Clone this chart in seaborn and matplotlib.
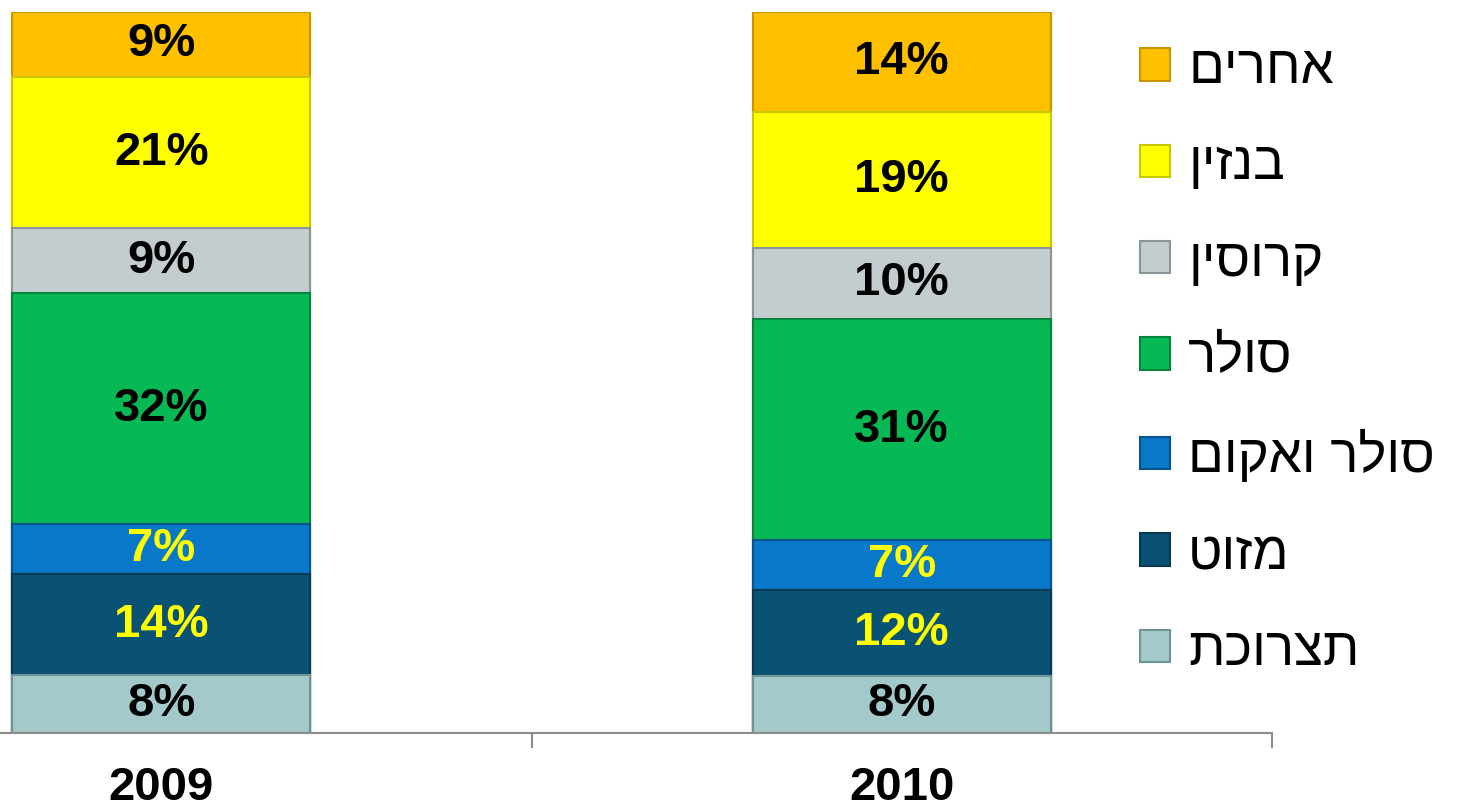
import numpy as np
import pandas as pd
import matplotlib
matplotlib.use('Agg')
import matplotlib.pyplot as plt
import seaborn as sns
from matplotlib.patches import Patch

# data, bottom to top of each stack
years = ['2009', '2010']
fuels = ['תצרוכת', 'מזוט', 'סולר ואקום', 'סולר', 'קרוסין', 'בנזין', 'אחרים']
share_2009 = [8, 14, 7, 32, 9, 21, 9]
share_2010 = [8, 12, 7, 31, 10, 19, 14]

colors = ['#a3c9cb', '#0a5274', '#0a78c8', '#06b954', '#c3cdd0', '#ffff00', '#ffc000']
edges = ['#6f9396', '#063a52', '#06548c', '#04843c', '#8a9599', '#c8c800', '#c89600']
label_colors = ['black', '#ffff00', '#ffff00', 'black', 'black', 'black', 'black']


def rtl(s):
    # matplotlib has no bidi support, flip hebrew by hand
    return s[::-1]


sns.set_theme(style='white')
plt.rcParams['font.family'] = ['Liberation Sans', 'DejaVu Sans']
plt.rcParams['text.color'] = 'black'
plt.rcParams['xtick.color'] = 'black'

df = pd.DataFrame({'2009': share_2009, '2010': share_2010}, index=fuels)
pct = df / df.sum() * 100
cum = pct.cumsum()

fig = plt.figure(figsize=(14.62, 8.09), dpi=100)
ax = fig.add_axes([-209 / 1462, 76 / 809, 1481 / 1462, 721 / 809])

# stacked bars: draw cumulative totals from the top layer down
for i in reversed(range(len(fuels))):
    sns.barplot(x=years, y=cum.iloc[i].values, color=colors[i], width=0.403,
                edgecolor=edges[i], linewidth=1.5, saturation=1, ax=ax)

for i in range(len(fuels)):
    for j, y in enumerate(years):
        mid = cum[y].iloc[i] - pct[y].iloc[i] / 2
        ax.text(j, mid, f'{df[y].iloc[i]}%', ha='center', va='center',
                fontsize=34, weight='bold', color=label_colors[i])

ax.set_xlim(-0.5, 1.5)
ax.set_ylim(0, 100)
ax.set_yticks([])
ax.set_xlabel('')
ax.set_ylabel('')
ax.set_xticks([0, 1])
ax.set_xticklabels(years, fontsize=34, weight='bold', color='black')
ax.tick_params(axis='x', which='major', length=0, pad=24)
ax.set_xticks([-0.5, 0.5, 1.5], minor=True)
ax.tick_params(axis='x', which='minor', bottom=True, length=11, width=1.5,
               color='#8c8c8c', direction='out')
sns.despine(ax=ax, left=True)
ax.spines['bottom'].set_color('#8c8c8c')
ax.spines['bottom'].set_linewidth(1.5)

handles = [Patch(facecolor=colors[i], edgecolor=edges[i], linewidth=1.5)
           for i in reversed(range(len(fuels)))]
labels = [rtl(fuels[i]) for i in reversed(range(len(fuels)))]
leg = ax.legend(handles, labels, loc='upper left', bbox_to_anchor=(1140 / 1462, 1 - 44 / 809),
                bbox_transform=fig.transFigure, frameon=False, fontsize=38,
                handlelength=0.57, handleheight=0.57, handletextpad=0.34,
                labelspacing=0.88, borderpad=0, borderaxespad=0)
for t in leg.get_texts():
    t.set_color('black')

fig.savefig('out.png', dpi=100)
